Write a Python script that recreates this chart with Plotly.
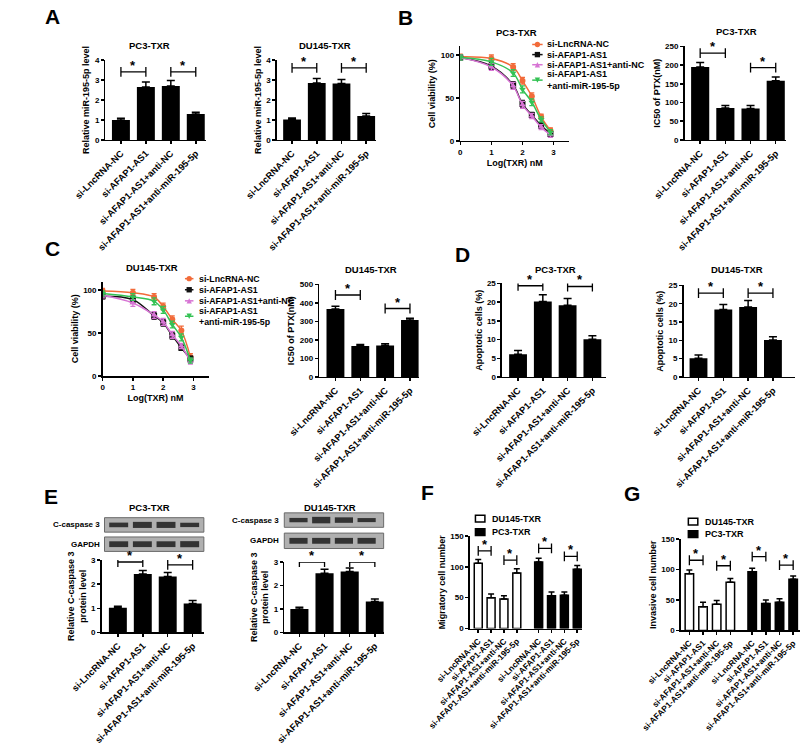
import plotly.graph_objects as go

W, H = 800, 745
FONT = "Liberation Sans, Arial, sans-serif"

# ---------------- data ----------------
groups = ["si-LncRNA-NC", "si-AFAP1-AS1", "si-AFAP1-AS1+anti-NC", "si-AFAP1-AS1+anti-miR-195-5p"]
legend_names = ["si-LncRNA-NC", "si-AFAP1-AS1", "si-AFAP1-AS1+anti-NC", "si-AFAP1-AS1<br>+anti-miR-195-5p"]
line_colors = ["#F26B3A", "#111111", "#D774D4", "#34C254"]
line_symbols = ["circle", "square", "triangle-up", "triangle-down"]
cell_lines = ["DU145-TXR", "PC3-TXR"]

# A: relative miR-195-5p level
a_pc3_mean = [1.0, 2.65, 2.7, 1.3]
a_pc3_err = [0.08, 0.25, 0.27, 0.08]
a_pc3_sig = [(0, 1, 3.4), (2, 3, 3.4)]
a_du_mean = [1.02, 2.85, 2.82, 1.2]
a_du_err = [0.08, 0.22, 0.2, 0.12]
a_du_sig = [(0, 1, 3.6), (2, 3, 3.6)]

# B/C: viability curves
log_dose = [0, 1, 1.7, 2, 2.3, 2.6, 2.9]
b_via = [
    [98, 96, 86, 70, 52, 28, 12],
    [97, 87, 65, 43, 30, 18, 8],
    [97, 86, 64, 42, 29, 16, 7],
    [97, 92, 79, 60, 45, 25, 10],
]
b_via_err = [
    [3, 4, 4, 4, 4, 3, 3],
    [3, 4, 4, 4, 3, 3, 3],
    [3, 4, 4, 4, 3, 3, 3],
    [3, 4, 4, 4, 4, 3, 3],
]
c_via = [
    [99, 97, 92, 81, 66, 53, 22],
    [93, 89, 70, 62, 47, 33, 20],
    [94, 85, 71, 63, 48, 35, 17],
    [96, 92, 87, 77, 60, 45, 18],
]
c_via_err = [
    [3, 4, 4, 4, 4, 5, 4],
    [3, 4, 4, 4, 4, 3, 3],
    [3, 4, 4, 4, 4, 3, 3],
    [3, 4, 4, 4, 4, 4, 3],
]

# IC50
b_ic_mean = [195, 85, 84, 158]
b_ic_err = [12, 7, 8, 10]
b_ic_sig = [(0, 1, 232), (2, 3, 193)]
c_ic_mean = [368, 168, 170, 308]
c_ic_err = [14, 8, 10, 10]
c_ic_sig = [(0, 1, 443), (2, 3, 370)]

# D: apoptosis
d_pc3_mean = [6.1, 20.2, 19.2, 10.1]
d_pc3_err = [1.0, 1.8, 1.8, 0.9]
d_pc3_sig = [(0, 1, 24.4), (2, 3, 24.2)]
d_du_mean = [5.1, 18.4, 19.1, 10.1]
d_du_err = [0.9, 1.4, 1.8, 0.9]
d_du_sig = [(0, 1, 22.9), (2, 3, 22.9)]

# E: C-caspase 3
e_pc3_mean = [1.02, 2.42, 2.32, 1.2]
e_pc3_err = [0.06, 0.15, 0.17, 0.12]
e_pc3_sig = [(0, 1, 2.92), (2, 3, 2.8)]
e_du_mean = [1.0, 2.52, 2.6, 1.32]
e_du_err = [0.07, 0.17, 0.15, 0.1]
e_du_sig = [(0, 1, 3.0), (2, 3, 3.0)]
e_pc3_casp_band = [0.32, 0.42, 0.42, 0.30]
e_pc3_gapdh_band = [0.40, 0.40, 0.40, 0.42]
e_du_casp_band = [0.30, 0.45, 0.38, 0.28]
e_du_gapdh_band = [0.38, 0.38, 0.38, 0.38]

# F: migration, G: invasion  (DU145 white, PC3 black)
f_du_mean = [106, 50, 48, 90]
f_du_err = [6, 6, 5, 7]
f_pc3_mean = [108, 53, 54, 96]
f_pc3_err = [6, 6, 5, 6]
f_du_sig = [(0, 1, 126), (2, 3, 111)]
f_pc3_sig = [(0, 1, 130), (2, 3, 117)]
g_du_mean = [93, 39, 43, 79]
g_du_err = [6, 7, 6, 6]
g_pc3_mean = [96, 44, 46, 84]
g_pc3_err = [6, 6, 6, 5]
g_du_sig = [(0, 1, 115), (2, 3, 106)]
g_pc3_sig = [(0, 1, 121), (2, 3, 107)]

# ---------------- helpers ----------------
layout = dict(
    width=W, height=H, margin=dict(l=0, r=0, t=0, b=0),
    paper_bgcolor="white", plot_bgcolor="white", barmode="overlay", showlegend=False,
    font=dict(family=FONT, color="black", size=9, weight="bold"),
)
traces, annotations, shapes = [], [], []
counter = [0]

AX = dict(showline=True, linecolor="black", linewidth=1.5, ticks="outside", ticklen=3,
          tickwidth=1.5, tickcolor="black", showgrid=False, zeroline=False, fixedrange=True,
          tickfont=dict(size=8, family=FONT, weight="bold", color="black"))


def px(x, y):
    return x / W, 1 - y / H


def new_axes(xpx, ypx, xr, yr, xextra=None, yextra=None):
    counter[0] += 1
    n = counter[0]
    s = "" if n == 1 else str(n)
    xa = dict(AX, domain=[xpx[0] / W, xpx[1] / W], range=xr, anchor="y" + s)
    ya = dict(AX, domain=[1 - ypx[1] / H, 1 - ypx[0] / H], range=yr, anchor="x" + s)
    if xextra:
        xa.update(xextra)
    if yextra:
        ya.update(yextra)
    layout["xaxis" + s] = xa
    layout["yaxis" + s] = ya
    return "x" + s, "y" + s


def text(x, y, t, size=10, xanchor="center", yanchor="middle", angle=0, align="center"):
    annotations.append(dict(x=x / W, y=1 - y / H, xref="paper", yref="paper", text=t, align=align,
                            showarrow=False, xanchor=xanchor, yanchor=yanchor, textangle=angle,
                            font=dict(size=size, family=FONT, weight="bold", color="black")))


def sig(xa, ya, pairs, xpos):
    for i, j, h in pairs:
        traces.append(go.Scatter(x=[xpos[i], xpos[j]], y=[h, h], xaxis=xa, yaxis=ya, mode="lines+markers",
                                 line=dict(color="black", width=1.3),
                                 marker=dict(symbol="line-ns", size=7, line=dict(color="black", width=1.3)),
                                 showlegend=False, hoverinfo="skip"))
        annotations.append(dict(x=(xpos[i] + xpos[j]) / 2, y=h, xref=xa, yref=ya, text="*",
                                showarrow=False, yanchor="bottom", yshift=-3,
                                font=dict(size=13, family=FONT, weight="bold", color="black")))


def ytitle(t, size=9, standoff=3):
    return dict(title=dict(text=t, font=dict(size=size, family=FONT, weight="bold"), standoff=standoff))


XLAB = dict(size=9.3, family=FONT, weight="bold", color="black")


def bar_panel(xpx, ypx, xr, yr, ytick, means, errs, pairs, ytext, title=None, title_xy=None):
    xa, ya = new_axes(xpx, ypx, xr, yr,
                      xextra=dict(tickvals=[0, 1, 2, 3], ticktext=groups, tickangle=-45, tickfont=XLAB),
                      yextra=dict(tickvals=ytick, **ytitle(ytext)))
    xpos = [0, 1, 2, 3]
    traces.append(go.Bar(x=xpos, y=means, xaxis=xa, yaxis=ya, width=0.72,
                         marker=dict(color="black", line=dict(width=0)),
                         error_y=dict(type="data", array=errs, arrayminus=[0] * len(errs), symmetric=False,
                                      color="black", thickness=1.5, width=4),
                         showlegend=False, hoverinfo="skip"))
    sig(xa, ya, pairs, xpos)
    if title:
        text(title_xy[0], title_xy[1], title, size=9.5)


def marker_shape(cx, cy, sym, color, r=2.8):
    if sym == "circle":
        x0, y1 = px(cx - r, cy - r)
        x1, y0 = px(cx + r, cy + r)
        shapes.append(dict(type="circle", xref="paper", yref="paper", x0=x0, x1=x1, y0=y0, y1=y1,
                           fillcolor=color, line=dict(width=0)))
    elif sym == "square":
        x0, y1 = px(cx - r, cy - r)
        x1, y0 = px(cx + r, cy + r)
        shapes.append(dict(type="rect", xref="paper", yref="paper", x0=x0, x1=x1, y0=y0, y1=y1,
                           fillcolor=color, line=dict(width=0)))
    else:
        if sym == "triangle-up":
            pts = [(cx - r, cy + r), (cx + r, cy + r), (cx, cy - r)]
        else:
            pts = [(cx - r, cy - r), (cx + r, cy - r), (cx, cy + r)]
        path = "M " + " L ".join("%.5f,%.5f" % px(a, b) for a, b in pts) + " Z"
        shapes.append(dict(type="path", xref="paper", yref="paper", path=path,
                           fillcolor=color, line=dict(width=0)))


def line_legend(x_line0, x_line1, x_text, ys, size=9):
    for k in range(4):
        y = ys[k]
        xa0, ya0 = px(x_line0, y)
        xa1, _ = px(x_line1, y)
        shapes.append(dict(type="line", xref="paper", yref="paper", x0=xa0, x1=xa1, y0=ya0, y1=ya0,
                           line=dict(color=line_colors[k], width=1.5)))
        marker_shape((x_line0 + x_line1) / 2, y, line_symbols[k], line_colors[k])
        text(x_text, y, legend_names[k], size=size, xanchor="left", align="left")


def box_legend(x0, x1, x_text, ys, h=7):
    fills = ["white", "black"]
    for k in range(2):
        y = ys[k]
        a0, b1 = px(x0, y - h / 2)
        a1, b0 = px(x1, y + h / 2)
        shapes.append(dict(type="rect", xref="paper", yref="paper", x0=a0, x1=a1, y0=b0, y1=b1,
                           fillcolor=fills[k], line=dict(color="black", width=1.5)))
        text(x_text, y, cell_lines[k], size=9, xanchor="left", align="left")


def line_panel(xpx, ypx, data, errs, title, title_xy):
    xa, ya = new_axes(xpx, ypx, [0, 3.5], [0, 110],
                      xextra=dict(tickvals=[0, 1, 2, 3],
                                  title=dict(text="Log(TXR) nM", font=dict(size=9, family=FONT, weight="bold"),
                                             standoff=3)),
                      yextra=dict(tickvals=[0, 50, 100], **ytitle("Cell viability (%)")))
    for k in range(4):
        traces.append(go.Scatter(x=log_dose, y=data[k], xaxis=xa, yaxis=ya, mode="lines+markers",
                                 name=legend_names[k], showlegend=False, hoverinfo="skip",
                                 line=dict(color=line_colors[k], width=1.5, shape="spline"),
                                 marker=dict(symbol=line_symbols[k], size=6, color=line_colors[k]),
                                 error_y=dict(type="data", array=errs[k], color=line_colors[k],
                                              thickness=1.3, width=2.5)))
    text(title_xy[0], title_xy[1], title, size=9.5)


def blot(xpx, ypx, xr, bands, label):
    xa, ya = new_axes(xpx, ypx, xr, [0, 1],
                      xextra=dict(showline=False, ticks="", showticklabels=False),
                      yextra=dict(showline=False, ticks="", showticklabels=False))
    shapes.append(dict(type="rect", xref=xa + " domain", yref=ya + " domain", x0=0, x1=1, y0=0, y1=1,
                       fillcolor="#b0b0b0", line=dict(color="#6a6a6a", width=1), layer="below"))
    traces.append(go.Bar(x=[0, 1, 2, 3], y=bands, base=[0.5 - b / 2 for b in bands], xaxis=xa, yaxis=ya,
                         width=0.8, marker=dict(color="#262626", line=dict(width=0)), opacity=0.9,
                         showlegend=False, hoverinfo="skip"))
    text(xpx[0] - 3, (ypx[0] + ypx[1]) / 2, label, size=8, xanchor="right")


def group_panel(xpx, ypx, xr, du_m, du_e, pc_m, pc_e, du_sig, pc_sig, ytext, gap):
    pos_du = [0, 1, 2, 3]
    pos_pc = [p + gap for p in pos_du]
    xa, ya = new_axes(xpx, ypx, xr, [0, 150],
                      xextra=dict(tickvals=pos_du + pos_pc, ticktext=groups + groups, tickangle=-45,
                                  tickfont=dict(size=8.4, family=FONT, weight="bold", color="black")),
                      yextra=dict(tickvals=[0, 50, 100, 150], **ytitle(ytext)))
    traces.append(go.Bar(x=pos_du, y=du_m, xaxis=xa, yaxis=ya, width=0.62, name=cell_lines[0],
                         marker=dict(color="white", line=dict(color="black", width=1.5)), hoverinfo="skip",
                         error_y=dict(type="data", array=du_e, arrayminus=[0] * 4, symmetric=False,
                                      color="black", thickness=1.5, width=3)))
    traces.append(go.Bar(x=pos_pc, y=pc_m, xaxis=xa, yaxis=ya, width=0.62, name=cell_lines[1],
                         marker=dict(color="black", line=dict(color="black", width=1.5)), hoverinfo="skip",
                         error_y=dict(type="data", array=pc_e, arrayminus=[0] * 4, symmetric=False,
                                      color="black", thickness=1.5, width=3)))
    sig(xa, ya, du_sig, pos_du)
    sig(xa, ya, pc_sig, pos_pc)


# ---------------- panels ----------------
bar_panel([66, 172], [58, 141], [-0.62, 3.4], [0, 4], [0, 1, 2, 3, 4], a_pc3_mean, a_pc3_err, a_pc3_sig,
          "Relative miR-195-5p level", "PC3-TXR", (113, 43))
bar_panel([247, 352], [58, 141], [-0.62, 3.4], [0, 4], [0, 1, 2, 3, 4], a_du_mean, a_du_err, a_du_sig,
          "Relative miR-195-5p level", "DU145-TXR", (298, 43))
line_panel([441, 556], [44, 142], b_via, b_via_err, "PC3-TXR", (500, 30))
line_legend(517, 528, 530, [42, 52.5, 63, 79])
bar_panel([678, 785], [44, 141], [-0.62, 3.4], [0, 250], [0, 50, 100, 150, 200, 250], b_ic_mean, b_ic_err,
          b_ic_sig, "IC50 of PTX(nM)", "PC3-TXR", (733, 29))
line_panel([63, 175], [288, 386], c_via, c_via_err, "DU145-TXR", (115, 273))
line_legend(150, 159, 163, [285, 296.5, 308, 324], size=8.8)
bar_panel([292, 397], [291, 387], [-0.65, 3.35], [0, 500], [0, 100, 200, 300, 400, 500], c_ic_mean, c_ic_err,
          c_ic_sig, "IC50 of PTX(nM)", "DU145-TXR", (347, 275))
bar_panel([485, 595], [290, 387], [-0.65, 3.55], [0, 25], [0, 5, 10, 15, 20, 25], d_pc3_mean, d_pc3_err,
          d_pc3_sig, "Apoptotic cells (%)", "PC3-TXR", (542, 275))
bar_panel([677, 795], [292, 387], [-0.6, 3.9], [0, 25], [0, 5, 10, 15, 20, 25], d_du_mean, d_du_err,
          d_du_sig, "Apoptotic cells (%)", "DU145-TXR", (733, 275))
blot([65, 170], [533, 548], [-0.6, 3.6], e_pc3_casp_band, "C-caspase 3")
blot([65, 170], [553, 568], [-0.6, 3.6], e_pc3_gapdh_band, "GAPDH")
bar_panel([62, 170], [577, 652], [-0.65, 3.45], [0, 3], [0, 1, 2, 3], e_pc3_mean, e_pc3_err, e_pc3_sig,
          "Relative C-caspase 3<br>protein level", "PC3-TXR", (113, 522))
blot([255, 360], [528, 543], [-0.625, 3.75], e_du_casp_band, "C-caspase 3")
blot([255, 360], [549, 565], [-0.625, 3.75], e_du_gapdh_band, "GAPDH")
bar_panel([255, 360], [579, 652], [-0.6, 3.35], [0, 3], [0, 1, 2, 3], e_du_mean, e_du_err, e_du_sig,
          "Relative C-caspase 3<br>protein level", "DU145-TXR", (303, 522))
group_panel([451, 570], [552, 648], [-0.66, 8.1], f_du_mean, f_du_err, f_pc3_mean, f_pc3_err,
            f_du_sig, f_pc3_sig, "Migratory cell number", 4.7)
box_legend(457, 467, 472, [534, 548])
group_panel([674, 800], [555, 650], [-0.63, 8.1], g_du_mean, g_du_err, g_pc3_mean, g_pc3_err,
            g_du_sig, g_pc3_sig, "Invasive cell number", 4.6)
box_legend(682, 692, 697, [537, 550])

for letter, (lx, ly) in {"A": (10, 13), "B": (383, 14), "C": (10, 254), "D": (443, 260),
                         "E": (8, 511), "F": (406, 507), "G": (622, 508)}.items():
    text(lx, ly, letter, size=21)

layout["annotations"] = annotations
layout["shapes"] = shapes
fig = go.Figure(data=traces, layout=layout)
fig.write_html("out.html", config={"displayModeBar": False, "staticPlot": True},
               post_script="document.body.style.margin='0px';")
